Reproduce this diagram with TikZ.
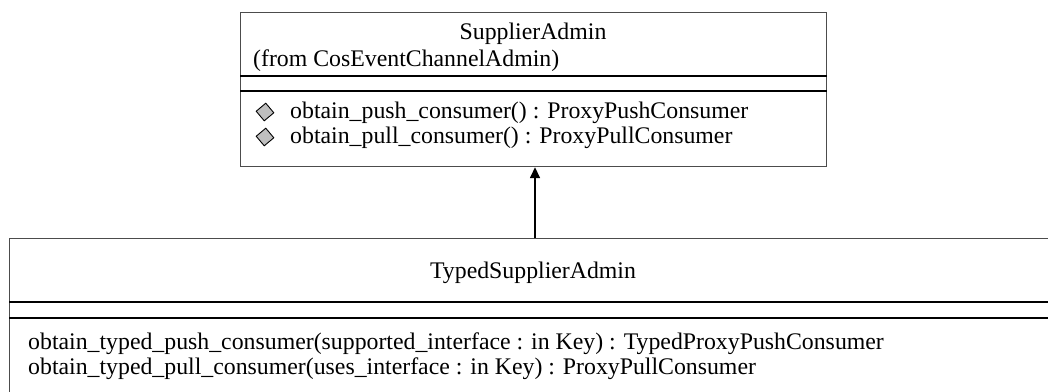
\documentclass[tikz,border=0pt]{standalone}
\usepackage{fontspec}
\setmainfont{Liberation Serif}
\usetikzlibrary{arrows.meta}
\tikzset{
  classbox/.style={draw=black!70, line width=1.2pt, inner sep=0pt, anchor=north west},
  sepline/.style={draw=black, line width=2pt},
  lbl/.style={inner sep=0pt, font=\fontsize{23.8}{25}\selectfont, anchor=base west},
  ttl/.style={inner sep=0pt, font=\fontsize{23.8}{25}\selectfont, anchor=base},
  opicon/.style={draw=black, fill=black!25, line width=0.9pt, minimum size=12.5pt, inner sep=0pt, rotate=40},
  inherit/.style={draw=black, line width=1.6pt, -{Triangle[length=11pt,width=10pt]}}
}
\begin{document}
\begin{tikzpicture}[x=1pt,y=-1pt]
\useasboundingbox (0,0) rectangle (1048,391);
\clip (0,0) rectangle (1048,391);
\fill[white] (0,0) rectangle (1048,391);
% SupplierAdmin
\node[classbox, minimum width=586pt, minimum height=154pt] (sup) at (240,12) {};
\draw[sepline] (sup.west |- 0,76) -- (sup.east |- 0,76);
\draw[sepline] (sup.west |- 0,91) -- (sup.east |- 0,91);
\node[ttl] (supname) at (533,39) {SupplierAdmin};
\node[lbl] (supfrom) at (253,66) {(from CosEventChannelAdmin)};
\node[opicon] (ic1) at (265,112) {};
\node[opicon] (ic2) at (265,137) {};
\node[lbl] (op1) at (290,118) {obtain\_push\_consumer() : ProxyPushConsumer};
\node[lbl] (op2) at (290,143) {obtain\_pull\_consumer() : ProxyPullConsumer};
% TypedSupplierAdmin
\node[classbox, minimum width=1080pt, minimum height=200pt] (tsa) at (9,238) {};
\draw[sepline] (tsa.west |- 0,302) -- (1060,302);
\draw[sepline] (tsa.west |- 0,318) -- (1060,318);
\node[ttl] (tsaname) at (533,278) {TypedSupplierAdmin};
\node[lbl] (top1) at (28,349) {obtain\_typed\_push\_consumer(supported\_interface : in Key) : TypedProxyPushConsumer};
\node[lbl] (top2) at (28,374) {obtain\_typed\_pull\_consumer(uses\_interface : in Key) : ProxyPullConsumer};
% generalization
\coordinate (ax) at (535,0);
\draw[inherit] (tsa.north -| ax) -- (sup.south -| ax);
\end{tikzpicture}
\end{document}
